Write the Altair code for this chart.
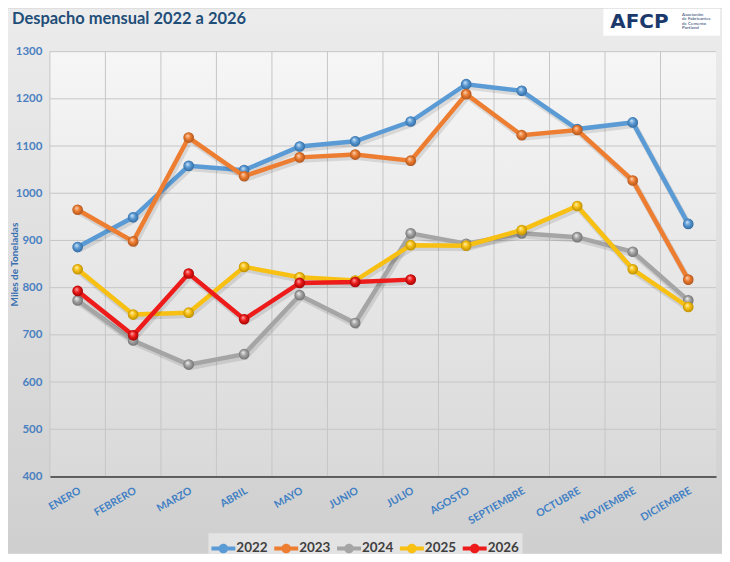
import altair as alt
import pandas as pd

months = ["ENERO", "FEBRERO", "MARZO", "ABRIL", "MAYO", "JUNIO", "JULIO",
          "AGOSTO", "SEPTIEMBRE", "OCTUBRE", "NOVIEMBRE", "DICIEMBRE"]
years = ["2022", "2023", "2024", "2025", "2026"]
v2022 = [886, 949, 1058, 1049, 1099, 1110, 1152, 1231, 1217, 1136, 1150, 935]
v2023 = [965, 898, 1118, 1036, 1076, 1082, 1069, 1210, 1123, 1134, 1027, 817]
v2024 = [773, 688, 637, 659, 784, 725, 915, 893, 915, 907, 876, 773]
v2025 = [839, 743, 747, 844, 822, 815, 890, 889, 922, 973, 839, 759]
v2026 = [793, 699, 830, 733, 810, 812, 817]
y_ticks = [400, 500, 600, 700, 800, 900, 1000, 1100, 1200, 1300]

series = {"2022": v2022, "2023": v2023, "2024": v2024, "2025": v2025, "2026": v2026}
line_colors = ["#5b9bd5", "#ed7d31", "#a5a5a5", "#f7c012", "#ee1b1b"]
light_colors = ["#d7e8f8", "#fbd9bf", "#f4f4f4", "#fff3b8", "#ffb0b0"]
dark_colors = ["#2d649a", "#a8501a", "#6a6a6a", "#b58800", "#9a0000"]

rows = []
for yr in years:
    for m, v in zip(months, series[yr]):
        rows.append({"month": m, "year": yr, "value": v})
df = pd.DataFrame(rows)

W, H = 668, 426
PL, PT, PR, PB = 42, 43, 6, 77

xscale = alt.Scale(type="band", domain=months, paddingInner=0, paddingOuter=0)
xaxis = alt.Axis(title=None, grid=False, ticks=False, labelAngle=-30,
                 labelAlign="right", labelBaseline="top", labelPadding=9,
                 labelFont="Lato", labelFontSize=10.5, labelFontWeight="bold",
                 labelColor="#3f7fc4", domainColor="#3a3a3a", domainWidth=1.6,
                 zindex=1, labelOverlap=False)
yscale = alt.Scale(domain=[400, 1300], nice=False, zero=False)
yaxis = alt.Axis(title="Miles de Toneladas", values=y_ticks, format="d", grid=False,
                 ticks=False, domain=False, labelFont="Lato", labelFontSize=11.5,
                 labelFontWeight="bold", labelColor="#4a80c0", labelPadding=8,
                 titleFont="Lato", titleFontSize=10, titleFontWeight="bold",
                 titleColor="#3a70b0", titleX=-35, titleY=H / 2, titleAngle=270,
                 titleAlign="center", titleBaseline="middle", zindex=1)


def X(**kw):
    return alt.X("month:N", scale=xscale, axis=xaxis, **kw)


def Y():
    return alt.Y("value:Q", scale=yscale, axis=yaxis)


one = pd.DataFrame({"k": [0]})

canvas = alt.Chart(one).mark_rect(
    fill=alt.LinearGradient(gradient="linear", x1=0, y1=0, x2=0, y2=1,
                            stops=[alt.GradientStop(color="#ececec", offset=0),
                                   alt.GradientStop(color="#cfcfcf", offset=1)])
).encode(x=alt.value(-PL), x2=alt.value(W + PR), y=alt.value(-PT), y2=alt.value(H + PB))

plotbg = alt.Chart(one).mark_rect(
    fill=alt.LinearGradient(gradient="linear", x1=0, y1=0, x2=0, y2=1,
                            stops=[alt.GradientStop(color="#f6f6f6", offset=0),
                                   alt.GradientStop(color="#d9d9d9", offset=1)])
).encode(x=alt.value(0), x2=alt.value(W), y=alt.value(0), y2=alt.value(H))

hgrid = alt.Chart(pd.DataFrame({"value": y_ticks})).mark_rule(
    color="#c6c6c6", strokeWidth=1).encode(y=Y())
vgrid = alt.Chart(pd.DataFrame({"month": months})).mark_rule(
    color="#c6c6c6", strokeWidth=1).encode(x=X(bandPosition=0))

title_txt = alt.Chart(one).mark_text(
    text="Despacho mensual 2022 a 2026", font="Lato", fontSize=16.5, fontWeight="bold",
    color="#1f4e79", align="left", baseline="middle").encode(
    x=alt.value(-38), y=alt.value(-33))

logo_box = alt.Chart(one).mark_rect(fill="white").encode(
    x=alt.value(555), x2=alt.value(672), y=alt.value(-43), y2=alt.value(-16))
logo_txt = alt.Chart(one).mark_text(
    text="AFCP", font="DejaVu Sans", fontSize=20, fontWeight="bold",
    color="#1b3a6b", align="left", baseline="middle").encode(
    x=alt.value(562), y=alt.value(-30))
small_lines = ["Asociación", "de Fabricantes", "de Cemento", "Portland"]
logo_small = [
    alt.Chart(one).mark_text(text=t, font="Lato", fontSize=4.5, color="#1b3a6b",
                             align="left", baseline="middle").encode(
        x=alt.value(634), y=alt.value(-37 + 4.5 * i))
    for i, t in enumerate(small_lines)
]

legend_path = ("M-1,-0.17L1,-0.17L1,0.17L-1,0.17Z "
               "M0.4,0A0.4,0.4 0 1,1 -0.4,0A0.4,0.4 0 1,1 0.4,0Z")
legend_layer = alt.Chart(df).mark_circle(size=90, opacity=1).encode(
    x=X(), y=Y(),
    color=alt.Color("year:N", scale=alt.Scale(domain=years, range=line_colors),
                    legend=alt.Legend(title=None, orient="none", legendX=159, legendY=483,
                                      direction="horizontal", symbolType=legend_path,
                                      symbolSize=576, symbolStrokeWidth=0, symbolOpacity=1,
                                      labelFont="Lato", labelFontSize=13.5,
                                      labelFontWeight="bold", labelColor="#404040",
                                      labelOffset=1, columnPadding=6,
                                      fillColor="#e3e3e3", padding=3)))

layers = [canvas, plotbg, hgrid, vgrid, title_txt, logo_box, logo_txt] + logo_small + [legend_layer]
for i, yr in enumerate(years):
    d = df[df.year == yr]
    shadow = alt.Chart(d).mark_line(color="#000000", opacity=0.1, strokeWidth=6,
                                    xOffset=1.5, yOffset=2.5).encode(x=X(), y=Y())
    line = alt.Chart(d).mark_line(color=line_colors[i], strokeWidth=4.5).encode(x=X(), y=Y())
    pts = alt.Chart(d).mark_circle(
        size=115, opacity=1, strokeWidth=0,
        fill=alt.RadialGradient(gradient="radial", x1=0.38, y1=0.32, r1=0,
                                x2=0.5, y2=0.5, r2=0.55,
                                stops=[alt.GradientStop(color=light_colors[i], offset=0),
                                       alt.GradientStop(color=line_colors[i], offset=0.45),
                                       alt.GradientStop(color=dark_colors[i], offset=1)])
    ).encode(x=X(), y=Y())
    layers += [shadow, line, pts]

chart = alt.layer(*layers).properties(
    width=W, height=H,
    autosize=alt.AutoSizeParams(type="none"),
    padding={"left": PL, "top": PT, "right": PR, "bottom": PB},
    background="#dadada",
).configure_view(stroke="#c6c6c6", strokeWidth=1)

chart.save("out.html", embed_options={"renderer": "svg", "actions": False})
